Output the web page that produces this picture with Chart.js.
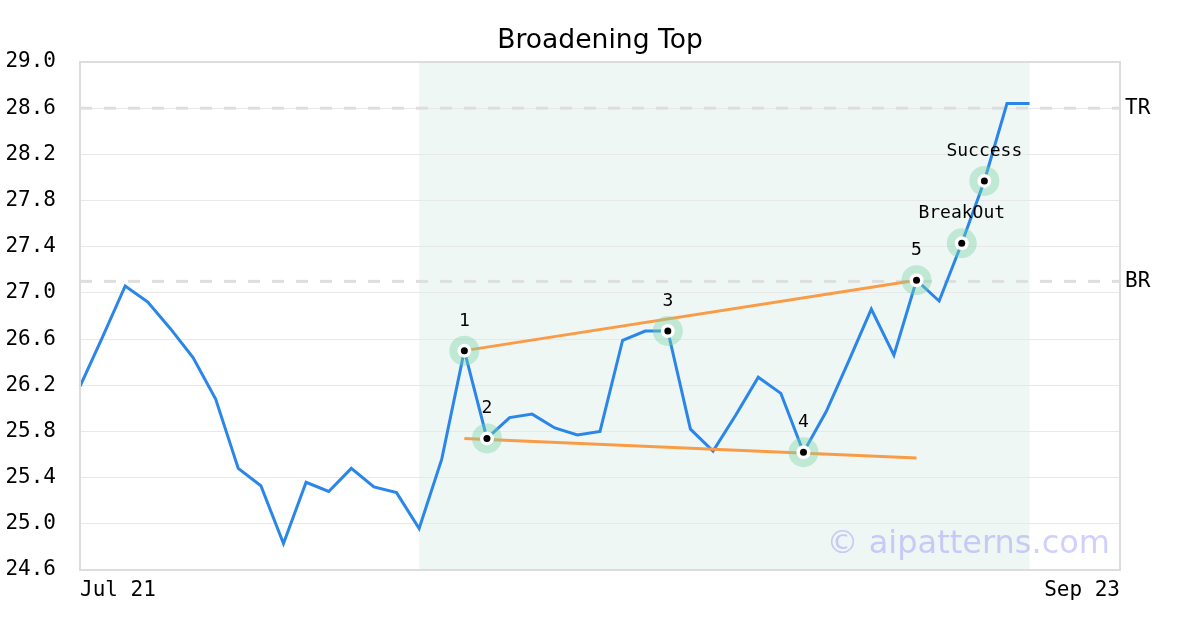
<!DOCTYPE html>
<html>
<head>
<meta charset="utf-8">
<script src="https://cdn.jsdelivr.net/npm/chart.js@4/dist/chart.umd.min.js"></script>
<style>
  html, body { margin: 0; padding: 0; background: #fff; }
  #wrap { width: 1200px; height: 630px; position: relative; }
</style>
</head>
<body>
<div id="wrap"><canvas id="c" width="1200" height="630"></canvas></div>
<script>
// ---- data ----
const chartTitle = "Broadening Top";
const xTickLabels = ["Jul 21", "Sep 23"];
const xTickIndex = [0, 46];
const xMax = 46;
const price = [26.19, 26.62, 27.06, 26.92, 26.69, 26.44, 26.08, 25.48, 25.33, 24.83,
               25.36, 25.28, 25.48, 25.32, 25.27, 24.96, 25.56, 26.50, 25.74, 25.92,
               25.95, 25.83, 25.77, 25.80, 26.59, 26.67, 26.67, 25.82, 25.63, 25.94,
               26.27, 26.13, 25.62, 25.97, 26.41, 26.86, 26.46, 27.11, 26.93, 27.43,
               27.97, 28.64, 28.64];
const patternRange = [15, 42];
const levelValues = [28.6, 27.1];
const levelLabels = ["TR", "BR"];
const upperTrendX = [17, 37];
const upperTrendY = [26.50, 27.11];
const lowerTrendX = [17, 37];
const lowerTrendY = [25.74, 25.57];
const markerIdx = [17, 18, 26, 32, 37, 39, 40];
const markerLabels = ["1", "2", "3", "4", "5", "BreakOut", "Success"];
const yTicks = [24.6, 25.0, 25.4, 25.8, 26.2, 26.6, 27.0, 27.4, 27.8, 28.2, 28.6, 29.0];
const watermark = "\u00A9 aipatterns.com";

// ---- build ----
const pricePts = price.map((v, i) => ({x: i, y: v}));
const markerPts = markerIdx.map(i => ({x: i, y: price[i]}));
const upperPts = upperTrendX.map((x, k) => ({x, y: upperTrendY[k]}));
const lowerPts = lowerTrendX.map((x, k) => ({x, y: lowerTrendY[k]}));
const levelDatasets = levelValues.map(v => ({
  data: [{x: 0, y: v}, {x: xMax, y: v}],
  borderColor: '#dedede', borderWidth: 3, borderDash: [12, 12],
  pointRadius: 0, order: 6
}));

const mono = "'DejaVu Sans Mono', monospace";
const sans = "'DejaVu Sans', sans-serif";

const decor = {
  id: 'decor',
  beforeDraw(chart) {
    const {ctx, chartArea: a, scales: {x, y}} = chart;
    ctx.save();
    ctx.fillStyle = '#fff';
    ctx.fillRect(0, 0, chart.width, chart.height);
    const x0 = x.getPixelForValue(patternRange[0]);
    const x1 = x.getPixelForValue(patternRange[1]);
    ctx.fillStyle = '#eff7f4';
    ctx.fillRect(x0, a.top, x1 - x0, a.bottom - a.top);
    ctx.restore();
  },
  afterDraw(chart) {
    const {ctx, chartArea: a, scales: {x, y}} = chart;
    ctx.save();
    // border
    ctx.strokeStyle = '#dddddd';
    ctx.lineWidth = 2;
    ctx.strokeRect(a.left, a.top, a.right - a.left, a.bottom - a.top);
    // title
    ctx.fillStyle = '#000';
    ctx.font = "26.6px " + sans;
    ctx.textAlign = 'center';
    ctx.textBaseline = 'alphabetic';
    ctx.fillText(chartTitle, (a.left + a.right) / 2, 48);
    // level labels
    ctx.font = "21px " + mono;
    ctx.textAlign = 'left';
    ctx.textBaseline = 'middle';
    levelValues.forEach((v, k) => {
      ctx.fillText(levelLabels[k], a.right + 5, y.getPixelForValue(v));
    });
    // marker labels
    ctx.font = "18px " + mono;
    ctx.textAlign = 'center';
    ctx.textBaseline = 'alphabetic';
    markerIdx.forEach((i, k) => {
      ctx.fillText(markerLabels[k], x.getPixelForValue(i), y.getPixelForValue(price[i]) - 25);
    });
    // watermark
    ctx.font = "32px " + sans;
    ctx.fillStyle = 'rgba(100,100,255,0.3)';
    ctx.textAlign = 'right';
    ctx.fillText(watermark, a.right - 10, a.bottom - 17);
    ctx.restore();
  }
};

new Chart(document.getElementById('c'), {
  type: 'line',
  data: {
    datasets: [
      { data: markerPts, showLine: false, pointRadius: 3.5, pointHoverRadius: 3.5,
        pointBackgroundColor: '#000', pointBorderWidth: 0, order: 0 },
      { data: markerPts, showLine: false, pointRadius: 7, pointHoverRadius: 7,
        pointBackgroundColor: '#fff', pointBorderWidth: 0, order: 1 },
      { data: markerPts, showLine: false, pointRadius: 15, pointHoverRadius: 15,
        pointBackgroundColor: 'rgba(119,209,167,0.4)', pointBorderWidth: 0, order: 2 },
      { data: upperPts, borderColor: '#fa9b46', borderWidth: 3, pointRadius: 0, order: 3 },
      { data: lowerPts, borderColor: '#fa9b46', borderWidth: 3, pointRadius: 0, order: 3 },
      { data: pricePts, borderColor: '#2a86e8', borderWidth: 3, pointRadius: 0,
        tension: 0, order: 4 },
      ...levelDatasets
    ]
  },
  options: {
    responsive: false,
    animation: false,
    clip: false,
    layout: { padding: { top: 62, right: 80, left: 0, bottom: 0 } },
    plugins: { legend: { display: false }, tooltip: { enabled: false }, title: { display: false } },
    scales: {
      x: {
        type: 'linear', min: 0, max: xMax,
        grid: { display: false, drawTicks: false },
        border: { display: false },
        afterBuildTicks(s) { s.ticks = xTickIndex.map(v => ({value: v})); },
        afterFit(s) { s.height = 60; },
        ticks: {
          autoSkip: false, maxRotation: 0, align: 'inner', padding: 8,
          color: '#000', font: { family: mono, size: 21 },
          callback(v) { const k = xTickIndex.indexOf(v); return k >= 0 ? xTickLabels[k] : ''; }
        }
      },
      y: {
        min: 24.6, max: 29.0,
        afterBuildTicks(s) { s.ticks = yTicks.map(v => ({value: v})); },
        afterFit(s) { s.width = 80; },
        grid: { color: '#e8e8e8', lineWidth: 1, drawTicks: false },
        border: { display: false },
        ticks: {
          padding: 24, color: '#000', font: { family: mono, size: 21 },
          callback(v) { return v.toFixed(1); }
        }
      }
    }
  },
  plugins: [decor]
});
</script>
</body>
</html>
